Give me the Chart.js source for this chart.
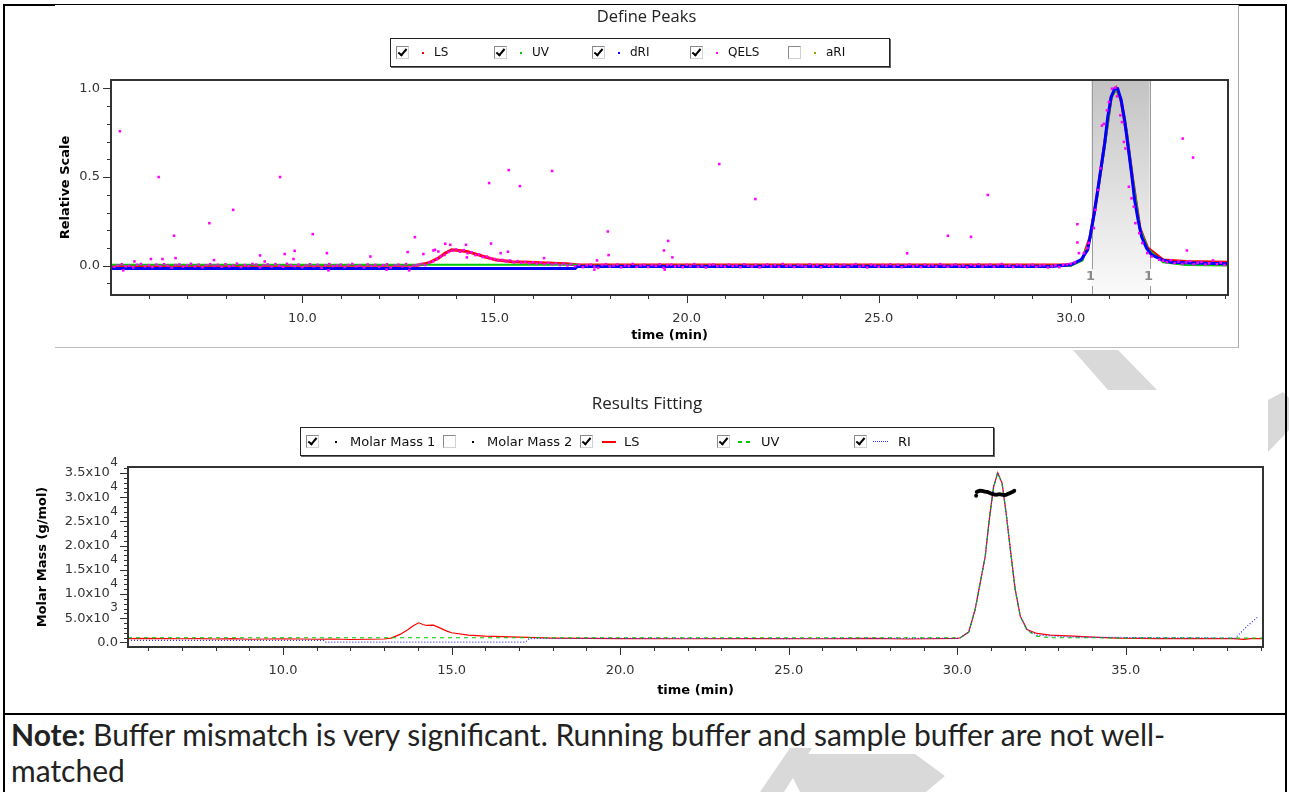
<!DOCTYPE html>
<html lang="en">
<head>
<meta charset="UTF-8">
<title>Define Peaks / Results Fitting</title>
<script src="https://cdn.jsdelivr.net/npm/chart.js"></script>
<style>
  html, body { margin: 0; padding: 0; background: #fff; }
  body { width: 1289px; height: 792px; position: relative; overflow: hidden; font-family: 'DejaVu Sans', sans-serif; }
  #wm { position: absolute; left: 0; top: 0; }
  .frame { position: absolute; left: 3px; top: 4px; width: 1284px; height: 820px; box-sizing: border-box; border: 2px solid #000; }
  .sep { position: absolute; left: 3px; top: 713px; width: 1284px; height: 2px; background: #000; }
  .box { position: absolute; background: #fff; }
  #topBox { left: 55px; top: 5px; width: 1183px; height: 342px; border-right: 1px solid #a8a8a8; border-bottom: 1px solid #bdbdbd; }
  #botBox { left: 6px; top: 390px; width: 1262px; height: 316px; }
  .box canvas { position: absolute; left: 0; top: 0; }
  .ttl { position: absolute; font-family: 'Open Sans', sans-serif; line-height: 20px; color: #222; text-align: center; z-index: 2; }
  .legend { position: absolute; height: 29px; box-sizing: border-box; border: 1px solid #222; box-shadow: 1px 1px 0 #666; background: #fff; z-index: 2; }
  .cb { position: absolute; top: 7px; width: 13px; height: 13px; box-sizing: border-box; border: 1px solid #8a8a8a; border-right-color: #d2d2d2; border-bottom-color: #d2d2d2; background: #fff; }
  .cb.on::after { content: ''; position: absolute; left: 3px; top: 0; width: 3px; height: 7px; border: solid #000; border-width: 0 2px 2px 0; transform: rotate(40deg); }
  .sym { position: absolute; }
  .sym.dot { top: 13px; width: 2px; height: 2px; background: currentColor; }
  .sym.solid { top: 13px; width: 14px; height: 2px; background: currentColor; }
  .sym.dash { top: 13px; width: 13px; height: 2px; background: repeating-linear-gradient(90deg, currentColor 0 4px, transparent 4px 8px); }
  .sym.dots { top: 13px; width: 15px; height: 1px; background: repeating-linear-gradient(90deg, currentColor 0 1px, transparent 1px 2px); }
  .lab { position: absolute; top: 0; line-height: 27px; color: #111; white-space: nowrap; }
  #topLegend .lab { font-size: 12px; }
  #botLegend .lab { font-size: 13px; }
  .note { position: absolute; left: 11px; top: 716px; font-family: Lato, sans-serif; font-size: 30px; line-height: 36px; color: #222; white-space: nowrap; }
</style>
</head>
<body>
<svg id="wm" width="1289" height="792">
  <g fill="#d9d9d9">
    <polygon points="1073,350 1118,350 1157,390 1108,390"/>
    <polygon points="1268,400 1283,392 1289,398 1289,430 1268,452"/>
    <polygon points="807,754 915,754 945,776 926,792 800,792 790,772"/>
    <polygon points="760,792 790,748 812,748 784,792"/>
  </g>
</svg>
<div class="frame"></div>
<div class="sep"></div>

<div class="box" id="topBox">
  <div class="ttl" style="left:0; top:1px; width:1183px; font-size:16.5px;">Define Peaks</div>
  <div class="legend" id="topLegend" style="left:335px; top:33px; width:500px;"></div>
  <canvas id="topChart" width="1189" height="342"></canvas>
</div>

<div class="box" id="botBox">
  <div class="ttl" style="left:541px; top:3px; width:200px; font-size:17px;">Results Fitting</div>
  <div class="legend" id="botLegend" style="left:294px; top:37px; width:694px;"></div>
  <canvas id="botChart" width="1273" height="316"></canvas>
</div>

<div class="note"><b>Note:</b> Buffer mismatch is very significant. Running buffer and sample buffer are not well-<br>matched</div>

<script>
// ---------- Define Peaks (relative scale) ----------
const topXRange = [5.02, 34.09];
const topYRange = [-0.165, 1.047];
const peakBand = [30.54, 32.05];
const peakMark = '1';

const riTopT = [5.02, 17.1, 17.15, 29.5, 30.0, 30.27, 30.44, 30.53, 30.61, 30.70, 30.79, 30.88, 30.96, 31.05, 31.14,
  31.22, 31.31, 31.40, 31.49, 31.58, 31.66, 31.75, 31.84, 31.97, 32.1, 32.36, 32.62, 33.15, 34.09];
const riTopV = [-0.015, -0.015, -0.005, -0.004, 0.005, 0.034, 0.09, 0.20, 0.296, 0.427, 0.558, 0.689, 0.839, 0.951, 0.998,
  0.998, 0.933, 0.82, 0.67, 0.52, 0.37, 0.258, 0.165, 0.099, 0.062, 0.034, 0.019, 0.015, 0.011];

const lsTopT = [5.02, 13.0, 13.28, 13.54, 13.72, 13.89, 14.07, 14.28, 14.5, 14.76, 15.02, 15.46, 15.9, 16.33, 16.86,
  17.2, 30.0, 30.3, 30.5, 30.7, 30.9, 31.05, 31.18, 31.3, 31.45, 31.6, 31.8, 32.0, 32.4, 33.0, 34.09];
const lsTopV = [0.002, 0.003, 0.015, 0.043, 0.071, 0.09, 0.086, 0.08, 0.067, 0.049, 0.034, 0.022, 0.019, 0.015, 0.011,
  0.004, 0.004, 0.035, 0.16, 0.42, 0.72, 0.95, 1.0, 0.94, 0.75, 0.5, 0.21, 0.1, 0.032, 0.024, 0.02];

const uvTopT = [5.02, 17.15, 17.2, 30.0, 30.3, 30.5, 30.7, 30.9, 31.05, 31.18, 31.3, 31.45, 31.6, 31.8, 32.0, 32.4, 33.0, 34.09];
const uvTopV = [0.006, 0.006, 0.0, 0.0, 0.03, 0.15, 0.41, 0.70, 0.94, 1.0, 0.94, 0.76, 0.51, 0.21, 0.095, 0.02, 0.004, 0.002];

// QELS baseline, read every 0.1 min
const qelsStep = 0.1;
const qelsStartA = 5.0;
const qelsBaseA = [
  0.004, -0.006, 0.002, 0.008, -0.003, 0.000, -0.009, 0.005, 0.010, -0.004,
  0.003, -0.007, 0.006, -0.002, 0.009, 0.001, -0.010, 0.004, 0.007, -0.005,
  0.002, 0.011, -0.004, 0.006, -0.008, 0.003, 0.009, -0.001, 0.005, -0.006,
  0.008, -0.003, 0.001, 0.012, -0.007, 0.004, -0.002, 0.010, 0.006, -0.009,
  0.003, 0.007, -0.005, 0.009, 0.000, -0.006, 0.011, 0.004, -0.003, 0.006,
  -0.008, 0.002, 0.008, -0.004, 0.005, -0.011, 0.003, 0.009, -0.002, 0.001,
  0.006, -0.007, 0.004, 0.010, -0.003, 0.002, -0.009, 0.007, -0.001, 0.005,
  -0.006, 0.003, 0.008, -0.010, 0.001, 0.006, -0.004, 0.009, -0.007, 0.002,
  0.005, 0.010, 0.004, 0.018, 0.025, 0.038, 0.052, 0.061, 0.078, 0.084,
  0.092, 0.079, 0.088, 0.071, 0.076, 0.060, 0.064, 0.049, 0.052, 0.041,
  0.038, 0.029, 0.033, 0.024, 0.030, 0.019, 0.026, 0.017, 0.022, 0.014,
  0.020, 0.012, 0.018, 0.009, 0.016, 0.007, 0.013, 0.004, 0.011, 0.002,
  0.008, -0.003, 0.005, -0.008, 0.002, 0.006, -0.005, -0.012, 0.004, 0.009,
  -0.004, 0.001, 0.007, -0.009, 0.003, -0.002, 0.010, -0.006, 0.002, 0.005,
  -0.007, 0.004, -0.001, 0.008, -0.011, 0.003, 0.006, -0.004, 0.001, -0.008,
  0.005, -0.002, 0.009, -0.006, 0.002, -0.010, 0.004, 0.007, -0.003, 0.001,
  -0.005, 0.006, -0.001, 0.003, -0.008, 0.008, 0.000, -0.004, 0.005, -0.009,
  0.002, 0.007, -0.003, 0.004, -0.006, 0.010, -0.002, 0.003, -0.007, 0.005,
  0.001, -0.005, 0.008, -0.003, 0.004, -0.009, 0.006, 0.000, -0.004, 0.007,
  -0.002, 0.005, -0.007, 0.003, 0.009, -0.005, 0.001, -0.010, 0.006, 0.002,
  -0.006, 0.004, 0.000, 0.008, -0.003, 0.005, -0.008, 0.002, 0.007, -0.004,
  0.003, -0.007, 0.006, -0.001, 0.004, -0.005, 0.009, 0.001, -0.006, 0.003,
  0.007, -0.003, 0.002, -0.009, 0.005, 0.000, 0.008, -0.004, 0.003, 0.006,
  -0.005, 0.004, 0.010, -0.002, 0.001, -0.007, 0.005, 0.003, -0.004, 0.002,
  0.006, -0.006, 0.001, 0.004, -0.010, -0.003, 0.002, -0.008, 0.005, 0.008,
  0.012, 0.020
];
const qelsStartB = 32.4;
const qelsBaseB = [0.028, 0.020, 0.031, 0.015, 0.024, 0.010, 0.019, 0.026, 0.008, 0.017, 0.022, 0.006, 0.014, 0.030,
  0.009, 0.018, 0.004, 0.012];
// QELS scattered points (spikes and the peak)
const qelsOutT = [5.25, 5.34, 5.63, 6.06, 6.26, 6.36, 6.66, 6.7, 7.58, 7.7, 8.2, 8.9, 9.02, 9.42, 9.54, 9.77, 9.8, 10.27,
  10.64, 10.68, 11.77, 12.19, 12.74, 12.78, 12.93, 13.15, 13.41, 13.45, 13.54, 13.72, 13.85, 14.26, 14.28, 14.86, 14.91,
  15.16, 15.35, 15.37, 15.66, 16.29, 16.5, 17.6, 17.67, 17.95, 17.97, 19.41, 19.43, 19.52, 19.63, 20.85, 21.79, 25.74,
  26.8, 27.4, 27.84, 30.17, 30.17, 30.21, 30.34, 30.43, 30.47, 30.6, 30.64, 30.71, 30.77, 30.81, 30.86, 30.94, 30.99,
  31.07, 31.16, 31.2, 31.29, 31.33, 31.38, 31.42, 31.51, 31.58, 31.64, 31.68, 31.78, 31.86, 31.99, 32.1, 32.3, 32.91,
  33.02, 33.18];
const qelsOutV = [0.758, -0.026, 0.024, 0.038, 0.50, 0.038, 0.169, 0.043, 0.24, 0.032, 0.315, 0.058, 0.024, 0.50, 0.066,
  0.038, 0.084, 0.178, 0.071, -0.026, 0.052, -0.022, 0.077, -0.026, 0.161, 0.066, 0.086, 0.09, 0.08, 0.124, 0.118, 0.118,
  0.047, 0.466, 0.125, 0.071, 0.079, 0.539, 0.449, 0.043, 0.534, -0.022, 0.03, 0.193, 0.06, 0.086, -0.022, 0.14, 0.047,
  0.573, 0.376, 0.07, 0.169, 0.163, 0.399, 0.234, 0.131, 0.071, 0.071, 0.099, 0.128, 0.212, 0.315, 0.427, 0.549, 0.79,
  0.80, 0.876, 0.923, 0.998, 1.004, 0.955, 0.848, 0.81, 0.698, 0.661, 0.445, 0.38, 0.333, 0.24, 0.184, 0.128, 0.071,
  0.052, 0.034, 0.717, 0.086, 0.61];

const topNames = ['LS', 'UV', 'dRI', 'QELS', 'aRI'];
const topShown = [true, true, true, true, false];
const topColors = ['#ff0000', '#00c800', '#0000ff', '#ff00ff', '#a0a000'];

// ---------- Results Fitting (molar mass) ----------
const botXRange = [5.4, 39.07];
const botYRange = [-950, 36240];
const botYStep = 1000;

const lsBotT = [5.4, 6.0, 6.5, 7.0, 7.5, 8.0, 8.5, 9.0, 9.5, 10.0, 10.5, 11.0, 11.5, 12.0, 12.5, 13.0, 13.2, 13.47, 13.71,
  13.85, 14.02, 14.15, 14.26, 14.46, 14.65, 14.86, 15.0, 15.5, 16.0, 16.5, 17.0, 18.0, 19.0, 20.0, 22.0, 24.0, 26.0, 27.5,
  28.5, 30.0, 30.09, 30.34, 30.53, 30.68, 30.83, 30.96, 31.08, 31.2, 31.33, 31.45, 31.6, 31.72, 31.87, 32.07, 32.36,
  32.76, 33.45, 34.0, 34.74, 36.0, 37.2, 38.2, 38.5, 38.7, 39.07];
const lsBotV = [800, 850, 800, 750, 800, 700, 800, 650, 700, 750, 700, 650, 700, 600, 650, 700, 900, 1650, 2680,
  3400, 4050, 3700, 3500, 3570, 3000, 2330, 2000, 1500, 1300, 1200, 1100, 900, 850, 800, 750, 800, 750, 850,
  700, 850, 960, 2130, 6800, 12300, 17770, 26000, 32190, 35060, 32880, 26700, 17770, 10900, 5420, 2680, 1850,
  1510, 1300, 1100, 900, 800, 800, 760, 620, 760, 760];

const uvBotT = [5.4, 30.0, 30.09, 30.34, 30.53, 30.68, 30.83, 30.96, 31.08, 31.2, 31.33, 31.45, 31.6, 31.72, 31.87,
  32.07, 32.36, 32.76, 34.0, 38.2, 39.07];
const uvBotV = [960, 960, 980, 2100, 6750, 12250, 17700, 25950, 32150, 35000, 32850, 26650, 17700, 10850, 5350,
  2500, 1300, 960, 960, 900, 900];

const riBotT = [5.4, 11.2, 11.25, 17.2, 17.3, 20.0, 25.0, 30.0, 30.09, 30.34, 30.53, 30.68, 30.83, 30.96, 31.08, 31.2,
  31.33, 31.45, 31.6, 31.72, 31.87, 32.07, 32.36, 33.45, 36.0, 38.25, 38.6, 38.91];
const riBotV = [410, 410, 70, 70, 800, 820, 800, 850, 980, 2150, 6850, 12350, 17800, 26050, 32250, 35100,
  32900, 26750, 17800, 10950, 5450, 2600, 1500, 1100, 950, 900, 3360, 5220];

const mmT = [30.56, 30.58, 30.62, 30.66, 30.70, 30.75, 30.80, 30.85, 30.90, 30.95, 31.00, 31.05, 31.10, 31.15, 31.20,
  31.25, 31.30, 31.35, 31.40, 31.45, 31.50, 31.55, 31.60, 31.65, 31.69];
const mmV = [30300, 31100, 31250, 31350, 31350, 31300, 31200, 31150, 31050, 30900, 30750, 30650, 30550, 30500, 30550,
  30600, 30550, 30500, 30480, 30520, 30650, 30800, 30950, 31150, 31350];

const botNames = ['Molar Mass 1', 'Molar Mass 2', 'LS', 'UV', 'RI'];
const botShown = [true, false, true, true, true];
const botColors = ['#000000', '#000000', '#ff0000', '#00c800', '#3030ff'];
const botKinds = ['dot', 'dot', 'solid', 'dash', 'dots'];

// ---------- helpers ----------
const pts = (ts, vs) => ts.map((t, i) => ({x: t, y: vs[i]}));
const seq = (start, vs) => vs.map((v, i) => ({x: +(start + i * qelsStep).toFixed(2), y: v}));
const near = (v, m) => Math.abs(v / m - Math.round(v / m)) < 1e-6;

function buildLegend(el, names, shown, colors, kinds, gap, symX, labX) {
  names.forEach((n, i) => {
    const x = 5 + i * gap;
    const k = kinds[i];
    el.insertAdjacentHTML('beforeend',
      `<span class="cb${shown[i] ? ' on' : ''}" style="left:${x}px"></span>` +
      `<span class="sym ${k}" style="left:${x + symX[k]}px;color:${colors[i]}"></span>` +
      `<span class="lab" style="left:${x + labX}px">${n}</span>`);
  });
}
buildLegend(document.getElementById('topLegend'), topNames, topShown, topColors,
  ['dot', 'dot', 'dot', 'dot', 'dot'], 98, {dot: 26}, 38);
buildLegend(document.getElementById('botLegend'), botNames, botShown, botColors, botKinds,
  137, {dot: 29, solid: 22, dash: 21, dots: 19}, 44);

// frame, tick marks, peak band and exponents
function axisDeco(o) {
  return {
    id: 'axisDeco',
    beforeDatasetsDraw(chart) {
      if (!o.band) return;
      const {ctx, chartArea: a, scales: {x}} = chart;
      const x0 = x.getPixelForValue(o.band[0]);
      const x1 = x.getPixelForValue(o.band[1]);
      const g = ctx.createLinearGradient(0, a.top, 0, a.bottom);
      g.addColorStop(0, '#c3c3c3');
      g.addColorStop(1, '#fbfbfb');
      ctx.save();
      ctx.fillStyle = g;
      ctx.fillRect(x0, a.top, x1 - x0, a.bottom - a.top);
      ctx.strokeStyle = '#9c9c9c';
      ctx.lineWidth = 1;
      ctx.fillStyle = '#8a8a8a';
      ctx.font = 'bold 13px "DejaVu Sans"';
      ctx.textAlign = 'center';
      ctx.textBaseline = 'middle';
      [x0, x1].forEach(p => {
        const px = Math.round(p) + 0.5;
        ctx.beginPath();
        ctx.moveTo(px, a.top); ctx.lineTo(px, a.bottom - 26);
        ctx.moveTo(px, a.bottom - 9); ctx.lineTo(px, a.bottom);
        ctx.stroke();
        ctx.fillText(o.mark, px - 2, a.bottom - 18);
      });
      ctx.restore();
    },
    afterDraw(chart) {
      const {ctx, chartArea: a, scales: {x, y}} = chart;
      ctx.save();
      ctx.strokeStyle = '#333';
      ctx.lineWidth = 2;
      ctx.strokeRect(a.left, a.top, a.right - a.left, a.bottom - a.top);
      ctx.lineWidth = 1;
      ctx.beginPath();
      x.ticks.forEach(t => {
        const px = Math.round(x.getPixelForValue(t.value)) + 0.5;
        ctx.moveTo(px, a.bottom + 1);
        ctx.lineTo(px, a.bottom + (near(t.value, o.xMajor) ? 8 : 4));
      });
      y.ticks.forEach(t => {
        const py = Math.round(y.getPixelForValue(t.value)) + 0.5;
        ctx.moveTo(a.left - 1, py);
        ctx.lineTo(a.left - (near(t.value, o.yMajor) ? 8 : 4), py);
      });
      ctx.stroke();
      if (o.exp) {
        ctx.fillStyle = '#333';
        ctx.font = '12px "DejaVu Sans"';
        ctx.textAlign = 'right';
        ctx.textBaseline = 'middle';
        y.ticks.forEach(t => {
          const e = o.exp(t.value);
          if (e) ctx.fillText(e, a.left - o.yPad, y.getPixelForValue(t.value) - 10);
        });
      }
      ctx.restore();
    }
  };
}

Chart.defaults.font.family = '"DejaVu Sans", sans-serif';
Chart.defaults.font.size = 13;
Chart.defaults.color = '#333';

// the x tick padding (16) also pads the chart area on the right, so the canvases are widened to match
const baseOpts = (padTop) => ({
  responsive: false,
  animation: false,
  events: [],
  layout: {padding: {top: padTop, right: 16, left: 0, bottom: 0}},
  plugins: {legend: {display: false}, tooltip: {enabled: false}, title: {display: false}}
});
const noGrid = {display: false, drawTicks: false};
const axisTitle = (text, pad) => ({display: true, text, color: '#000', font: {size: 13, weight: 'bold'}, padding: pad});

// top chart (dataset 0 is painted last, on top)
new Chart(document.getElementById('topChart'), {
  type: 'scatter',
  data: {
    datasets: [
      {label: 'QELS', data: seq(qelsStartA, qelsBaseA).concat(seq(qelsStartB, qelsBaseB), pts(qelsOutT, qelsOutV)),
        pointStyle: 'rect', pointRadius: 1.8, backgroundColor: '#ff00ff', borderWidth: 0, showLine: false},
      {label: 'dRI', data: pts(riTopT, riTopV), showLine: true, borderColor: '#0000ff', borderWidth: 3, pointRadius: 0},
      {label: 'UV', data: pts(uvTopT, uvTopV), showLine: true, borderColor: '#00c800', borderWidth: 2, pointRadius: 0},
      {label: 'LS', data: pts(lsTopT, lsTopV), showLine: true, borderColor: '#ff0000', borderWidth: 3, pointRadius: 0}
    ]
  },
  options: Object.assign(baseOpts(75), {
    scales: {
      x: {
        type: 'linear', min: topXRange[0], max: topXRange[1],
        afterFit(s) { s.height = 52; },
        grid: noGrid, border: {display: false},
        ticks: {stepSize: 1, maxTicksLimit: 200, autoSkip: false, maxRotation: 0, includeBounds: false, padding: 16,
          callback: v => near(v, 5) ? v.toFixed(1) : ''},
        title: axisTitle('time (min)', {top: 0, bottom: 4})
      },
      y: {
        type: 'linear', min: topYRange[0], max: topYRange[1],
        afterFit(s) { s.width = 56; },
        grid: noGrid, border: {display: false},
        ticks: {stepSize: 0.1, maxTicksLimit: 200, autoSkip: false, includeBounds: false, padding: 11,
          callback: v => near(v, 0.5) ? (Math.abs(v) < 1e-9 ? '0.0' : v.toFixed(1)) : ''},
        title: axisTitle('Relative Scale', {top: 3, bottom: 0})
      }
    }
  }),
  plugins: [axisDeco({xMajor: 5, yMajor: 0.5, band: peakBand, mark: peakMark})]
});

// bottom chart
new Chart(document.getElementById('botChart'), {
  type: 'scatter',
  data: {
    datasets: [
      {label: 'Molar Mass 1', data: pts(mmT, mmV), pointRadius: 2, backgroundColor: '#000', borderWidth: 0, showLine: false},
      {label: 'RI', data: pts(riBotT, riBotV), showLine: true, borderColor: '#3030ff', borderWidth: 1.2, borderDash: [1, 2], pointRadius: 0},
      {label: 'UV', data: pts(uvBotT, uvBotV), showLine: true, borderColor: '#00c800', borderWidth: 1.2, borderDash: [4, 4], pointRadius: 0},
      {label: 'LS', data: pts(lsBotT, lsBotV), showLine: true, borderColor: '#ff0000', borderWidth: 1.2, pointRadius: 0}
    ]
  },
  options: Object.assign(baseOpts(77), {
    scales: {
      x: {
        type: 'linear', min: botXRange[0], max: botXRange[1],
        afterFit(s) { s.height = 59; },
        grid: noGrid, border: {display: false},
        ticks: {stepSize: 1, maxTicksLimit: 200, autoSkip: false, maxRotation: 0, includeBounds: false, padding: 16,
          callback: v => near(v, 5) ? v.toFixed(1) : ''},
        title: axisTitle('time (min)', {top: 0, bottom: 8})
      },
      y: {
        type: 'linear', min: botYRange[0], max: botYRange[1],
        afterFit(s) { s.width = 122; },
        afterBuildTicks(s) {
          const t = [];
          for (let v = 0; v <= s.max; v += botYStep) t.push({value: v});
          s.ticks = t;
        },
        grid: noGrid, border: {display: false},
        ticks: {autoSkip: false, padding: 10,
          callback: v => {
            if (!near(v, 5000)) return '';
            if (v === 0) return '0.0';
            return (v >= 10000 ? (v / 10000) : (v / 1000)).toFixed(1) + 'x10\u2007';
          }},
        title: axisTitle('Molar Mass (g/mol)', {top: 29, bottom: 0})
      }
    }
  }),
  plugins: [axisDeco({xMajor: 5, yMajor: 5000, yPad: 10,
    exp: v => (v > 0 && near(v, 5000)) ? (v >= 10000 ? '4' : '3') : null})]
});
</script>
</body>
</html>
